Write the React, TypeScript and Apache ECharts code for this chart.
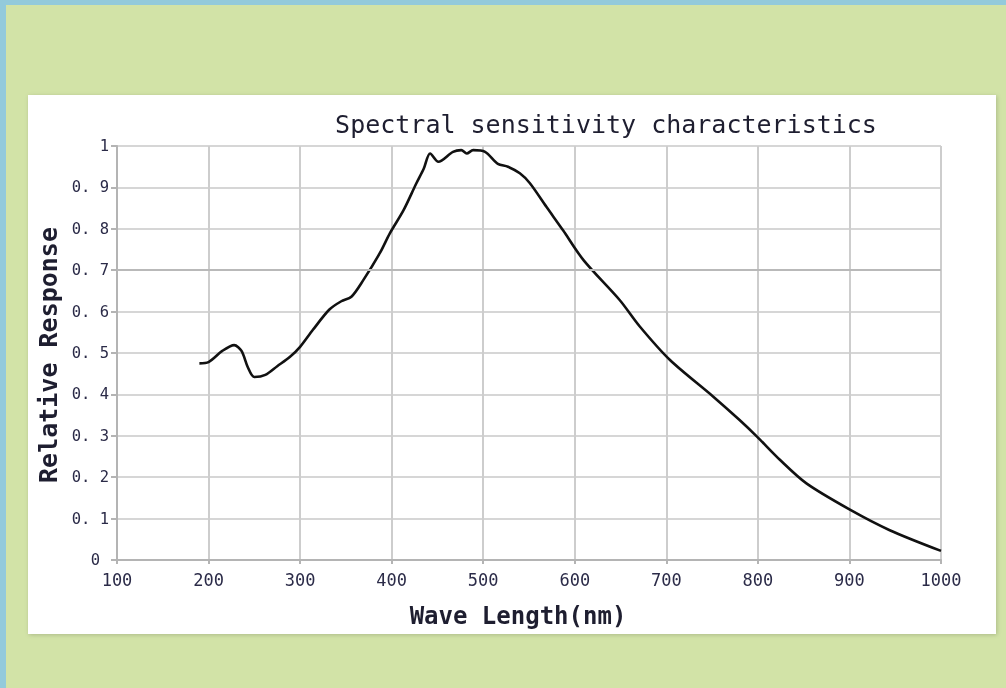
import React, { useEffect, useRef } from "react";
import * as echarts from "echarts";

const wavelengths = [190, 200, 215, 228, 236, 243, 250, 262, 275, 289, 300, 314, 332, 345, 356, 369, 387, 398, 413, 427, 435, 442, 451, 467, 476, 482, 489, 502, 516, 527, 540, 551, 569, 587, 610, 649, 671, 704, 751, 780, 799, 824, 853, 901, 944, 1000];
const responses = [0.475, 0.478, 0.505, 0.519, 0.505, 0.465, 0.442, 0.447, 0.468, 0.491, 0.515, 0.556, 0.605, 0.625, 0.636, 0.676, 0.741, 0.789, 0.845, 0.91, 0.945, 0.982, 0.962, 0.986, 0.99, 0.982, 0.99, 0.986, 0.957, 0.95, 0.934, 0.91, 0.853, 0.797, 0.723, 0.628, 0.564, 0.483, 0.395, 0.338, 0.298, 0.242, 0.185, 0.121, 0.072, 0.022];

const titleText = "Spectral sensitivity characteristics";
const xName = "Wave Length(nm)";
const yName = "Relative Response";

const MONO = "'DejaVu Sans Mono', 'Liberation Mono', monospace";
const LABEL = "#2b2b48";

export default function App() {
  const ref = useRef<HTMLDivElement>(null);
  useEffect(() => {
    if (!ref.current) return;
    const chart = echarts.init(ref.current, undefined, { renderer: "svg" });
    const data = wavelengths.map((w, i) => [w, responses[i]]);
    chart.setOption({
      animation: false,
      graphic: [
        { type: "rect", z: -10, shape: { x: 0, y: 0, width: 1006, height: 688 }, style: { fill: "#d2e3a7" } },
        { type: "rect", z: -9, shape: { x: 0, y: 0, width: 1006, height: 5 }, style: { fill: "#93cadb" } },
        { type: "rect", z: -9, shape: { x: 0, y: 0, width: 6, height: 688 }, style: { fill: "#93cadb" } },
        {
          type: "rect",
          z: -8,
          shape: { x: 28, y: 95, width: 968, height: 539 },
          style: { fill: "#ffffff", shadowBlur: 4, shadowColor: "rgba(0,0,0,0.18)", shadowOffsetY: 1, shadowOffsetX: 1 },
        },
        {
          type: "text",
          x: 606,
          y: 124,
          style: { text: titleText, font: `25px ${MONO}`, fill: "#1e1e30", textAlign: "center", textVerticalAlign: "middle" },
        },
        {
          type: "text",
          x: 518,
          y: 616,
          style: { text: xName, font: `bold 24px ${MONO}`, fill: "#1e1e30", textAlign: "center", textVerticalAlign: "middle" },
        },
        {
          type: "text",
          x: 48,
          y: 355,
          rotation: Math.PI / 2,
          style: { text: yName, font: `bold 25px ${MONO}`, fill: "#1e1e30", textAlign: "center", textVerticalAlign: "middle" },
        },
      ],
      grid: { left: 117, top: 146, width: 824, height: 414, containLabel: false },
      xAxis: {
        type: "value",
        min: 100,
        max: 1000,
        interval: 100,
        axisLine: { show: true, lineStyle: { color: "#b4b4b4", width: 2 } },
        axisTick: { show: true, length: 4, lineStyle: { color: "#b4b4b4", width: 2 } },
        splitLine: { show: true, lineStyle: { color: "#cdcdcd", width: 2 } },
        axisLabel: { margin: 11, color: LABEL, fontFamily: MONO, fontSize: 17, formatter: (v: number) => String(Math.round(v)) },
      },
      yAxis: {
        type: "value",
        min: 0,
        max: 1,
        interval: 0.1,
        axisLine: { show: true, lineStyle: { color: "#b4b4b4", width: 2 } },
        axisTick: { show: true, length: 6, lineStyle: { color: "#b4b4b4", width: 2 } },
        splitLine: { show: true, lineStyle: { color: "#d6d6d6", width: 2 } },
        axisLabel: {
          margin: 8,
          color: LABEL,
          fontFamily: MONO,
          fontSize: 15.5,
          formatter: (v: number) => {
            const r = Math.round(v * 10) / 10;
            if (r === 0) return "{z|0}";
            if (r === 1) return "1";
            return r.toFixed(1).replace(".", ". ");
          },
          rich: {
            z: { fontFamily: MONO, fontSize: 15.5, color: LABEL, padding: [0, 9, 0, 0] },
          },
        },
      },
      series: [
        {
          type: "line",
          data,
          smooth: 0.3,
          showSymbol: false,
          symbol: "none",
          lineStyle: { color: "#111111", width: 2.6 },
          markLine: {
            silent: true,
            symbol: "none",
            label: { show: false },
            lineStyle: { color: "#b9b9b9", width: 2, type: "solid" },
            data: [{ yAxis: 0.7 }],
          },
        },
      ],
    });
    return () => chart.dispose();
  }, []);
  return <div ref={ref} style={{ position: "fixed", left: 0, top: 0, width: 1006, height: 688 }} />;
}
